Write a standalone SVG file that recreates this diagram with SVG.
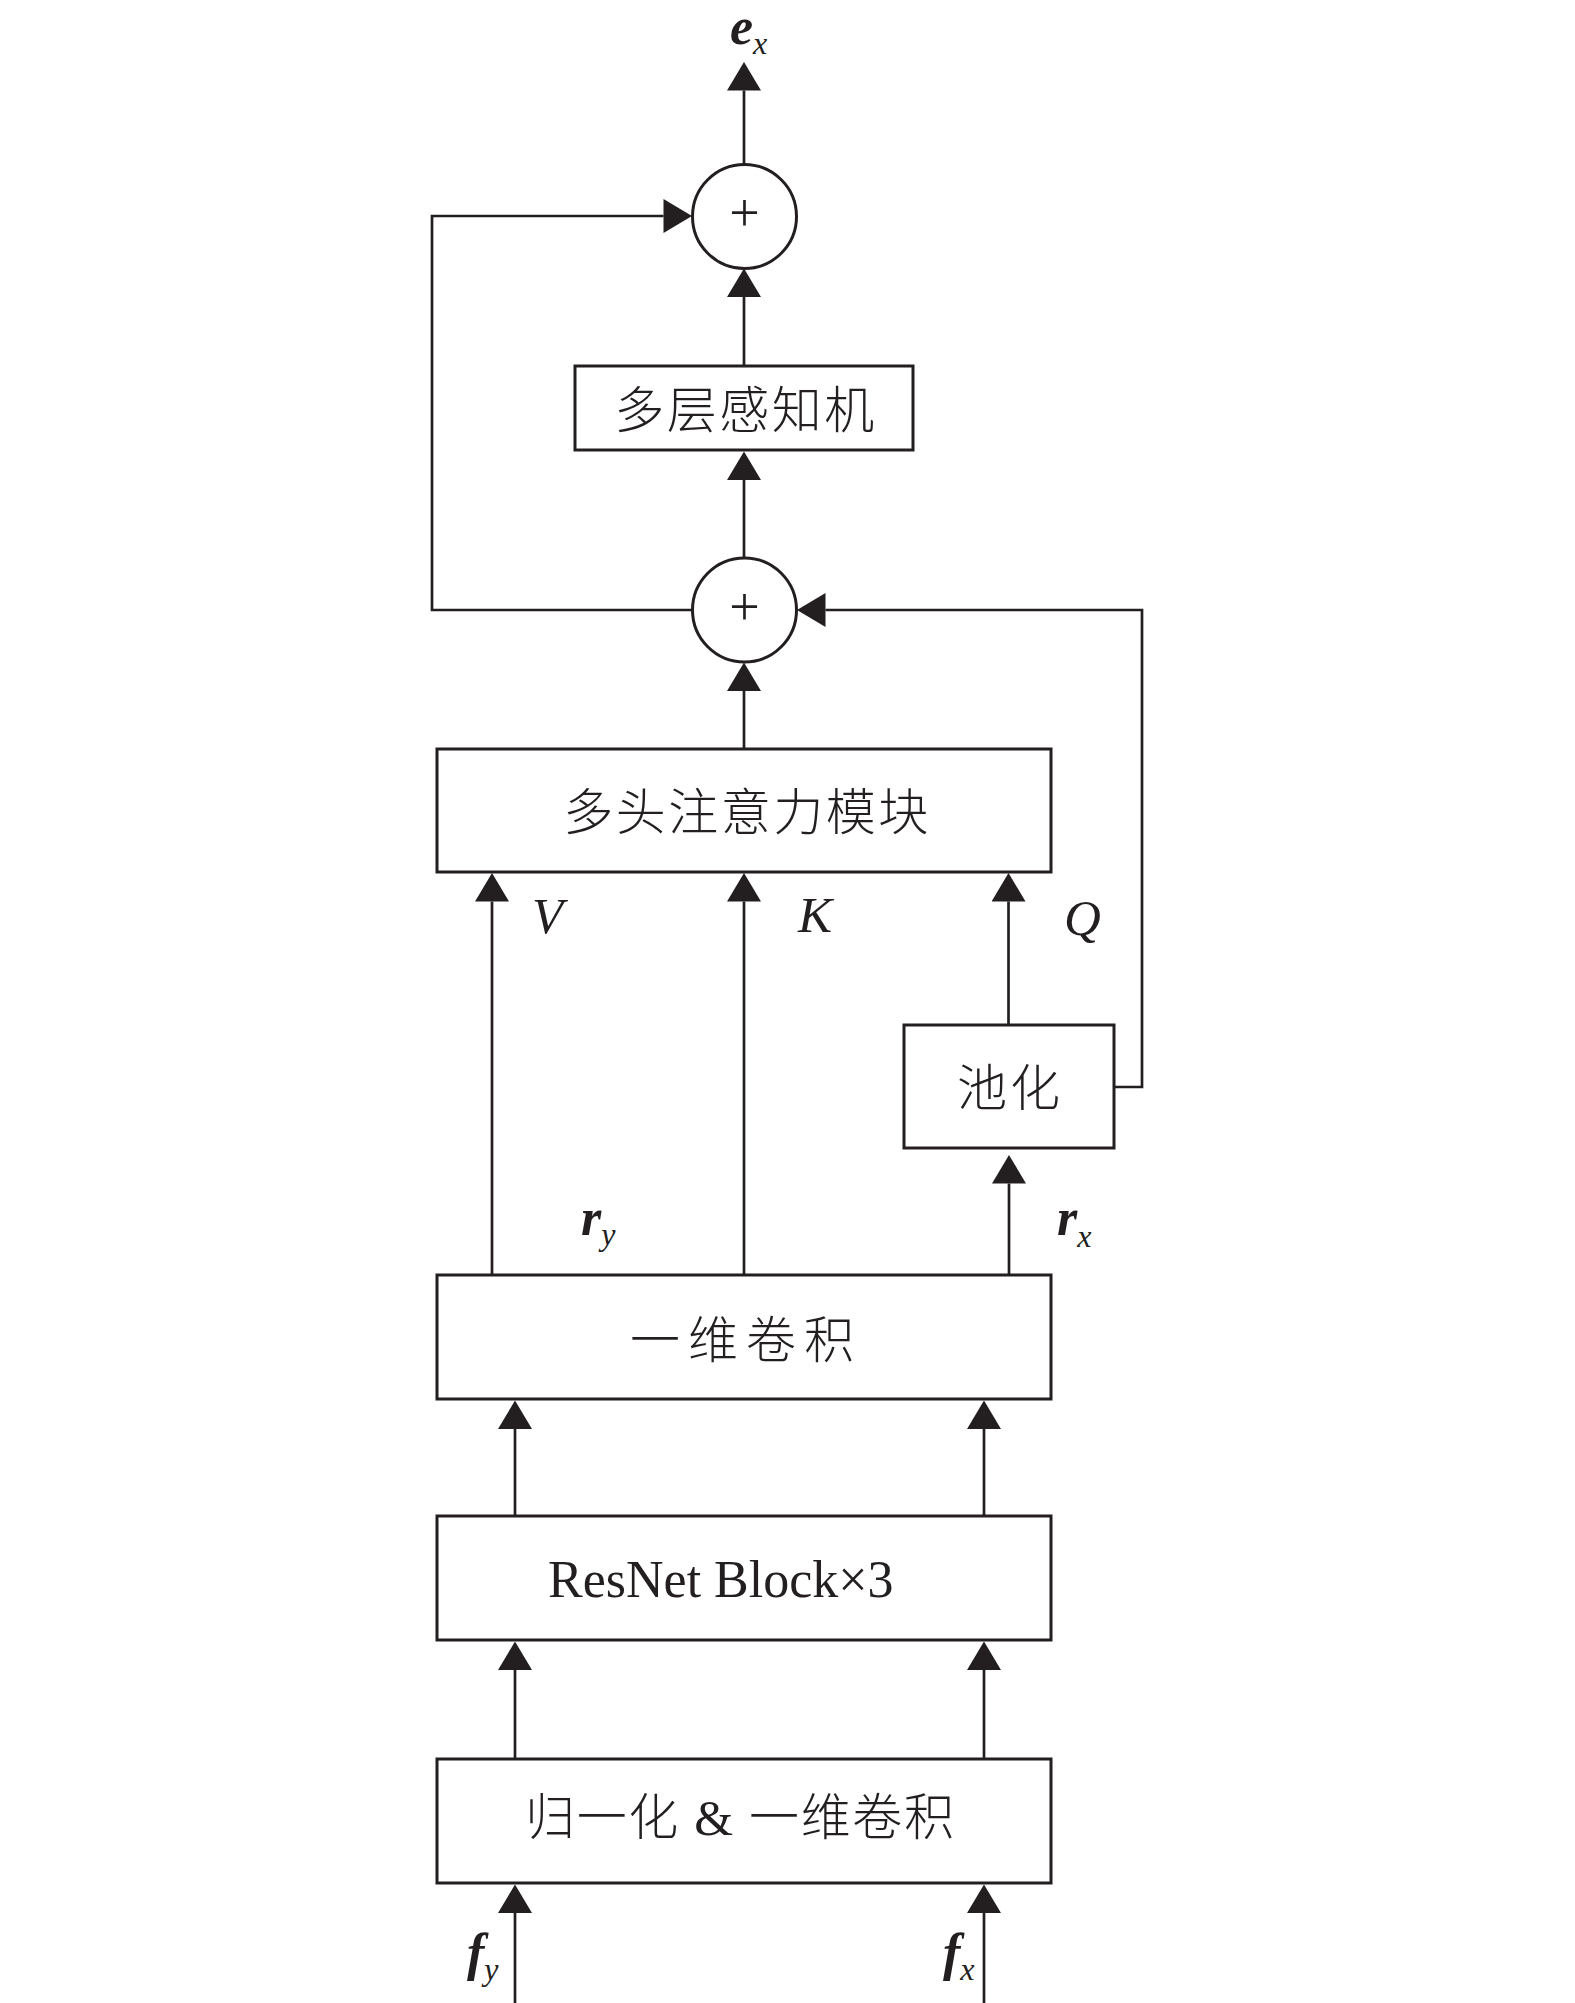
<svg xmlns="http://www.w3.org/2000/svg" width="1575" height="2003" viewBox="0 0 1575 2003">
<style>
  .box { fill: #ffffff; stroke: #231f20; stroke-width: 3; }
  .circ { fill: #ffffff; stroke: #231f20; stroke-width: 3; }
  .wire { fill: none; stroke: #231f20; stroke-width: 2.7; marker-end: url(#arr); }
  .cjk { font-family: "Liberation Serif", "Noto Sans CJK SC", serif; font-size: 50px; fill: #231f20; font-weight: 300; }
  .serif { font-family: "Liberation Serif", serif; fill: #231f20; }
  .plus { font-family: "Liberation Serif", serif; font-size: 54px; fill: #231f20; text-anchor: middle; }
  .bi { font-family: "Liberation Serif", serif; font-size: 52px; font-weight: bold; font-style: italic; fill: #231f20; }
  .sub { font-size: 32px; font-weight: normal; font-style: italic; }
  .it { font-family: "Liberation Serif", serif; font-size: 51px; font-style: italic; fill: #231f20; }
</style>
<defs>
  <marker id="arr" markerUnits="userSpaceOnUse" markerWidth="29" markerHeight="34" viewBox="0 0 28.5 34" refX="0" refY="17" orient="auto">
    <path d="M0,0 L28.5,17 L0,34 Z" fill="#231f20"/>
  </marker>
</defs>

<g id="connectors">
  <path class="wire" d="M744,164 V90.5"/>
  <path class="wire" d="M744,366 V297"/>
  <path class="wire" d="M744,558 V480"/>
  <path class="wire" d="M744,749 V691"/>
  <path class="wire" d="M692,610 H432 V216 H663.5"/>
  <path class="wire" d="M1114,1087 H1142 V610 H825.5"/>
  <path class="wire" d="M492,1275 V901.5"/>
  <path class="wire" d="M744,1275 V901.5"/>
  <path class="wire" d="M1008.5,1025 V901.5"/>
  <path class="wire" d="M1009,1275 V1183.5"/>
  <path class="wire" d="M515,1516 V1429"/>
  <path class="wire" d="M984,1516 V1429"/>
  <path class="wire" d="M515,1759 V1670"/>
  <path class="wire" d="M984,1759 V1670"/>
  <path class="wire" d="M515,2003 V1913"/>
  <path class="wire" d="M984,2003 V1913"/>
</g>

<g id="sum-top">
  <circle class="circ" cx="744.5" cy="216.5" r="52"/>
  <text class="plus" x="744.5" y="231">+</text>
</g>

<g id="mlp">
  <rect class="box" x="575" y="366" width="338" height="84"/>
  <text class="cjk" x="745.5" y="428" text-anchor="middle" letter-spacing="2.5">多层感知机</text>
</g>

<g id="sum-mid">
  <circle class="circ" cx="744.5" cy="610" r="52"/>
  <text class="plus" x="744.5" y="625">+</text>
</g>

<g id="mha">
  <rect class="box" x="437" y="749" width="614" height="123"/>
  <text class="cjk" x="747" y="830" text-anchor="middle" letter-spacing="2.5">多头注意力模块</text>
</g>

<g id="pool">
  <rect class="box" x="904" y="1025" width="210" height="123"/>
  <text class="cjk" x="1010" y="1106" text-anchor="middle" letter-spacing="3">池化</text>
</g>

<g id="conv1d">
  <rect class="box" x="437" y="1275" width="614" height="124"/>
  <text class="cjk" x="746" y="1358" text-anchor="middle" letter-spacing="8">一维卷积</text>
</g>

<g id="resnet">
  <rect class="box" x="437" y="1516" width="614" height="124"/>
  <text class="serif" x="548" y="1597" font-size="52">ResNet Block×3</text>
</g>

<g id="norm">
  <rect class="box" x="437" y="1759" width="614" height="124"/>
  <text class="cjk" x="525" y="1835" font-size="51" textLength="429" lengthAdjust="spacing">归一化 &amp; 一维卷积</text>
</g>

<g id="labels">
  <text class="bi" x="730" y="44">e<tspan class="sub" dy="10">x</tspan></text>
  <text class="it" x="532" y="933">V</text>
  <text class="it" x="798" y="932">K</text>
  <text class="it" x="1064" y="935">Q</text>
  <text class="bi" x="581" y="1235">r<tspan class="sub" dy="10">y</tspan></text>
  <text class="bi" x="1057" y="1235">r<tspan class="sub" dy="12">x</tspan></text>
  <text class="bi" x="467" y="1970">f<tspan class="sub" dy="10">y</tspan></text>
  <text class="bi" x="943" y="1970">f<tspan class="sub" dy="10">x</tspan></text>
</g>
</svg>
